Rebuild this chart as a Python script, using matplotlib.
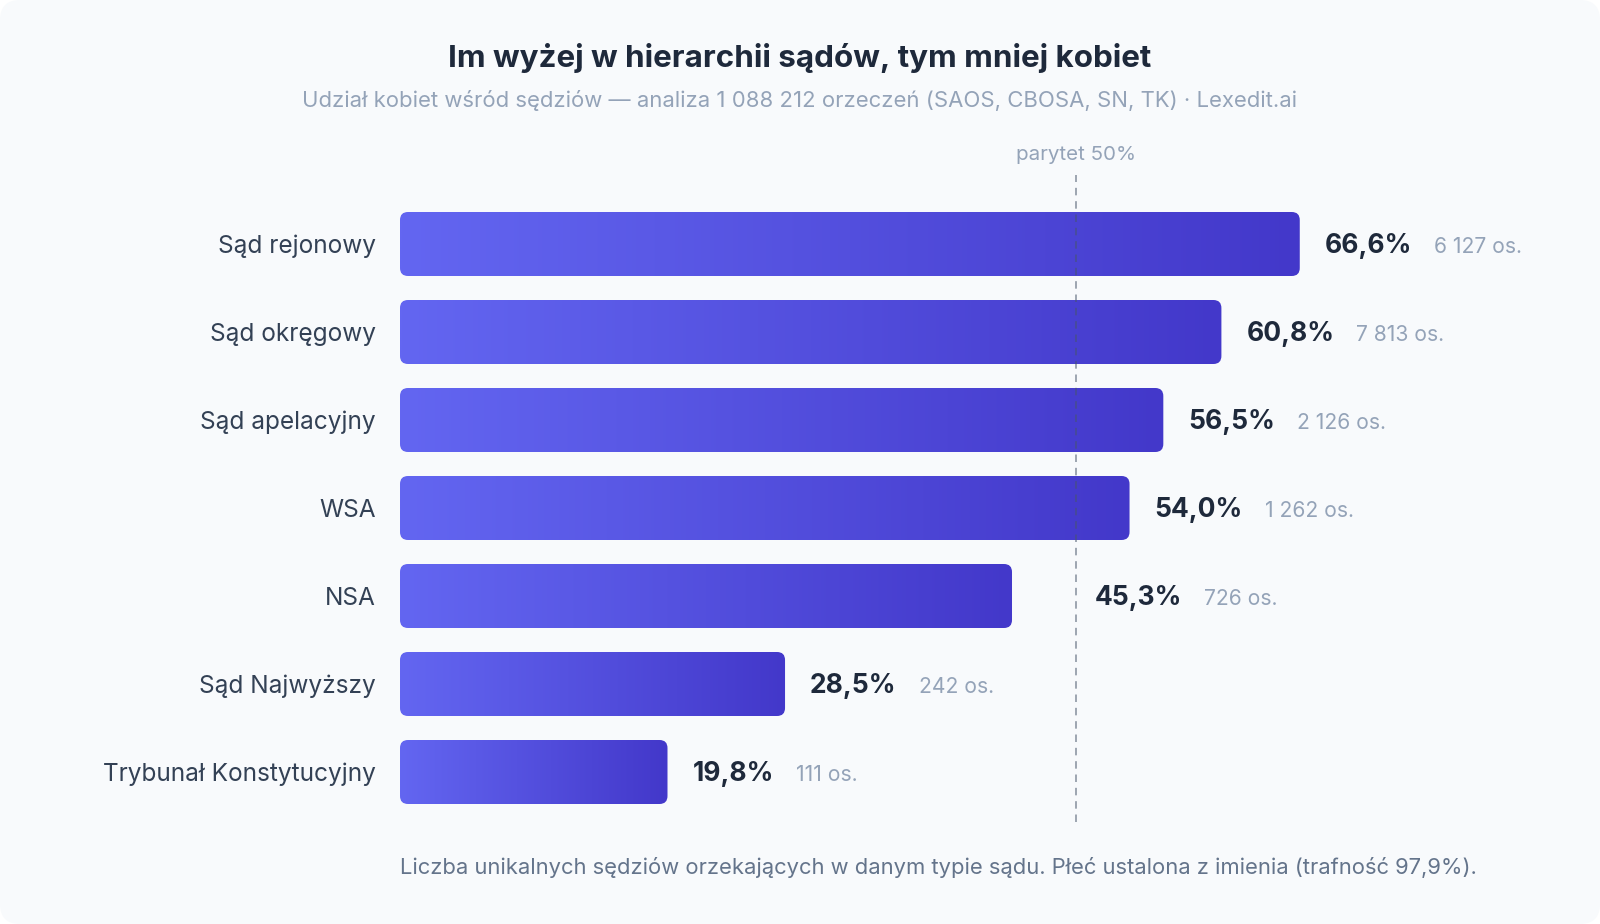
import numpy as np
import matplotlib.pyplot as plt
from matplotlib.patches import FancyBboxPatch
from matplotlib.colors import to_rgb

plt.rcParams['font.family'] = ['Inter', 'DejaVu Sans']

# Data
courts = ['Sąd rejonowy', 'Sąd okręgowy', 'Sąd apelacyjny', 'WSA', 'NSA',
          'Sąd Najwyższy', 'Trybunał Konstytucyjny']
share_women = [66.6, 60.8, 56.5, 54.0, 45.3, 28.5, 19.8]
judges = [6127, 7813, 2126, 1262, 726, 242, 111]
parity = 50

title = 'Im wyżej w hierarchii sądów, tym mniej kobiet'
subtitle = ('Udział kobiet wśród sędziów — analiza 1 088 212 orzeczeń '
            '(SAOS, CBOSA, SN, TK) · Lexedit.ai')
footnote = ('Liczba unikalnych sędziów orzekających w danym typie sądu. '
            'Płeć ustalona z imienia (trafność 97,9%).')

W, H, DPI = 1600, 924, 100
fig = plt.figure(figsize=(W / DPI, H / DPI), dpi=DPI, facecolor='white')

# rounded card behind everything
card = FancyBboxPatch((0, 0), W / DPI, H / DPI,
                      boxstyle='round,pad=0,rounding_size=0.2',
                      transform=fig.dpi_scale_trans,
                      facecolor='#f8fafc', edgecolor='none', zorder=-10)
fig.patches.append(card)

# axes placed in pixel terms
left, right, top, bottom = 400, 1560, 175.5, 821.5
row_px = 88
px_per_pct = 13.51
ax = fig.add_axes([left / W, (H - bottom) / H, (right - left) / W, (bottom - top) / H])
ax.set_facecolor('none')

bar_h = 64 / row_px
radius = 8 / px_per_pct
aspect = px_per_pct / row_px
c0 = np.array(to_rgb('#6366f1'))
c1 = np.array(to_rgb('#4338ca'))
grad = np.linspace(0, 1, 256)[:, None]
grad_img = (c0 + (c1 - c0) * grad)[None, :, :]

for i, (v, n) in enumerate(zip(share_women, judges)):
    patch = FancyBboxPatch((0, i - bar_h / 2), v, bar_h,
                           boxstyle=f'round,pad=0,rounding_size={radius}',
                           mutation_aspect=aspect,
                           facecolor='none', edgecolor='none')
    ax.add_patch(patch)
    im = ax.imshow(grad_img, extent=[0, v, i + bar_h / 2, i - bar_h / 2],
                   aspect='auto', interpolation='bilinear', zorder=2)
    im.set_clip_path(patch)

    # push the label past the parity line when it would sit on it
    lab_x, dx = v, 25
    if v < parity and v + (25 + 90) / px_per_pct > parity:
        lab_x, dx = parity, 19
    txt = ax.annotate(f'{v:.1f}%'.replace('.', ','), xy=(lab_x, i),
                      xytext=(dx, -9.3), textcoords='offset pixels',
                      ha='left', va='baseline', fontsize=19,
                      fontweight='bold', color='#1e293b')
    ax.annotate(f'{n:,} os.'.replace(',', ' '), xy=(1, i),
                xycoords=(txt, 'data'), xytext=(22, -9.3),
                textcoords='offset pixels', ha='left', va='baseline',
                fontsize=15.2, color='#94a3b8')

# parity line
ax.axvline(parity, color='#475569', alpha=0.6, lw=1.2,
           ls=(0, (4.5, 3.5)), zorder=5)
ax.annotate(f'parytet {parity}%', xy=(parity, 1),
            xycoords=('data', 'axes fraction'), xytext=(0, 15.5),
            textcoords='offset pixels', ha='center', va='baseline',
            fontsize=14.8, color='#94a3b8')

ax.set_xlim(0, (right - left) / px_per_pct)
ax.set_ylim((bottom - 244) / row_px, (top - 244) / row_px)
ax.set_yticks(range(len(courts)), courts)
ax.set_xticks([])
ax.tick_params(axis='y', length=0, pad=17.6, labelsize=17.6, labelcolor='#334155')
for s in ax.spines.values():
    s.set_visible(False)

fig.text(0.5, 1 - 67.3 / H, title, ha='center', va='baseline',
         fontsize=22.6, fontweight='bold', color='#1e293b')
fig.text(0.5, 1 - 107.3 / H, subtitle, ha='center', va='baseline',
         fontsize=15.9, color='#94a3b8')
fig.text(left / W, 1 - 874 / H, footnote, ha='left', va='baseline',
         fontsize=15.8, color='#64748b')

fig.savefig('out.png', dpi=DPI, facecolor='white')
